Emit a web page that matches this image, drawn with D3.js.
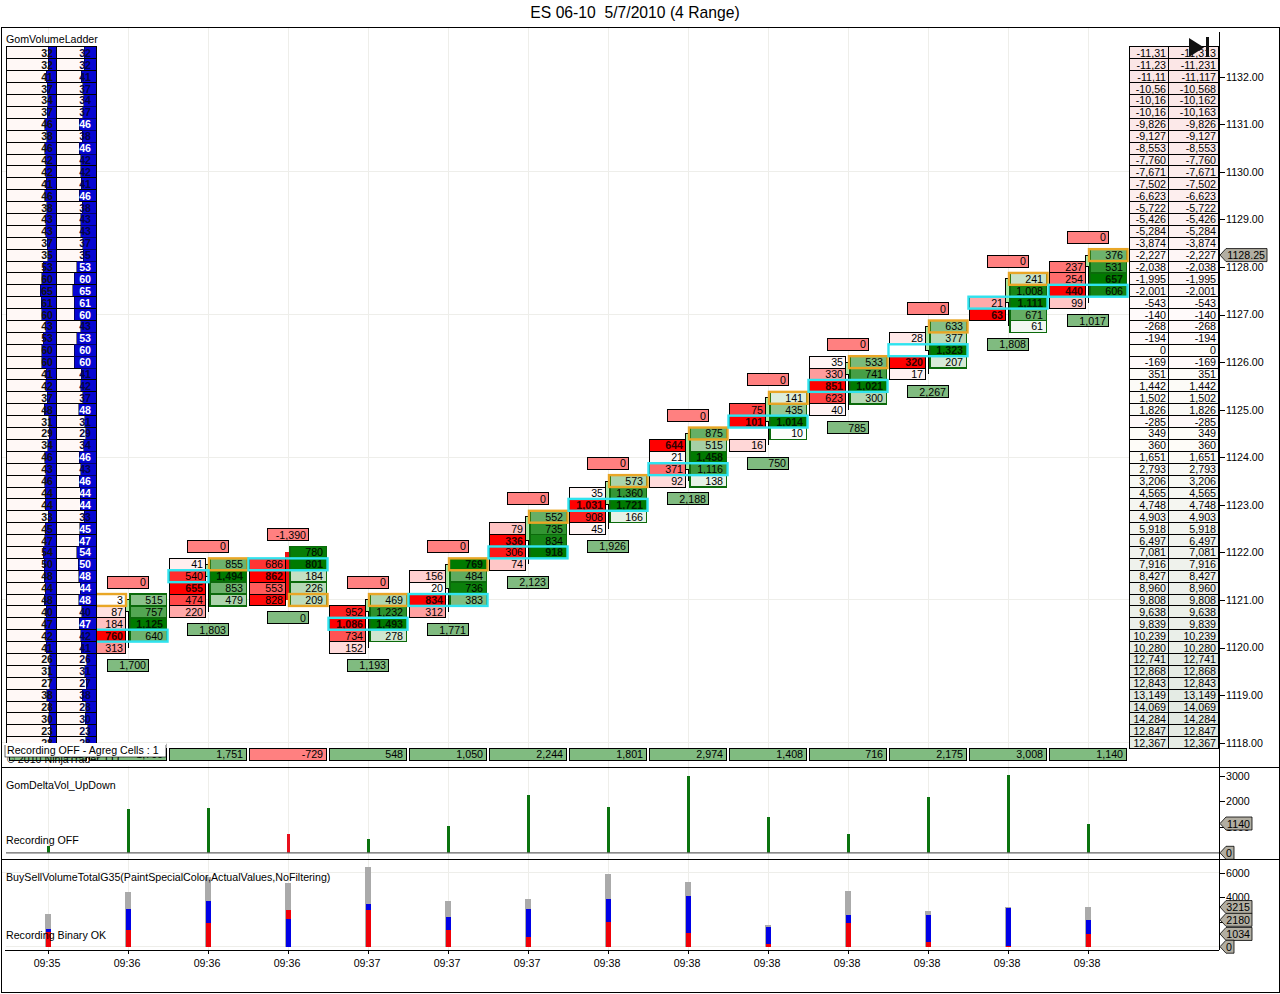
<!DOCTYPE html>
<html>
<head>
<meta charset="utf-8">
<script src="https://cdn.jsdelivr.net/npm/d3@7/dist/d3.min.js"></script>
<style>
html,body{margin:0;padding:0;background:#fff}
svg{display:block}
text{font-family:"Liberation Sans",Arial,sans-serif;font-size:10.67px;fill:#000;white-space:pre}
</style>
</head>
<body>
<svg id="chart" width="1280" height="994"></svg>
<script>
// ---------- data ----------
const titleText = "ES 06-10  5/7/2010 (4 Range)";
const timeLabels = ["09:35","09:36","09:36","09:36","09:37","09:37","09:37","09:38","09:38","09:38","09:38","09:38","09:38","09:38"];
const ladderTop = 1132.5;
const ladderVolumes = [32,32,41,37,34,37,46,38,46,42,42,41,46,38,43,43,37,35,53,60,65,61,60,43,53,60,60,41,42,37,48,31,29,34,46,43,46,44,44,33,45,47,54,50,48,44,48,40,47,42,41,26,31,27,38,28,30,23,28];
const cumulativeDelta = [-11313,-11231,-11117,-10568,-10162,-10163,-9826,-9127,-8553,-7760,-7671,-7502,-6623,-5722,-5426,-5284,-3874,-2227,-2038,-1995,-2001,-543,-140,-268,-194,0,-169,351,1442,1502,1826,-285,349,360,1651,2793,3206,4565,4748,4903,5918,6497,7081,7916,8427,8960,9808,9638,9839,10239,10280,12741,12868,12843,13149,14069,14284,12847,12367];
// index 0 of the bar arrays is the 09:35 bar; its footprint sits behind the ladder
const barIndex   = [1,2,3,4,5,6,7,8,9,10,11,12,13];
const barOpen    = [1120.75,1121.5,1122,1120.75,1121.25,1122.25,1123,1123.75,1124.75,1125.75,1126.25,1127.25,1128];
const barClose   = [1121,1121.75,1121,1121,1121.75,1122.75,1123.5,1124.5,1125.25,1126,1126.75,1127.75,1128.25];
const barHigh    = [1121,1121.75,1122,1121,1121.75,1122.75,1123.5,1124.5,1125.25,1126,1126.75,1127.75,1128.25];
const barLow     = [1120,1120.75,1121,1120,1120.75,1121.75,1122.5,1123.5,1124.25,1125,1125.75,1126.75,1127.25];
const sellTopPrice = [1121,1121.75,1121.75,1120.75,1121.5,1122.5,1123.25,1124.25,1125,1126,1126.5,1127.25,1128];
const sellVolumes = [
  [3,87,184,760,313],[41,540,655,474,220],[686,862,553,828],[952,1086,734,152],
  [156,20,834,312],[79,336,306,74],[35,1031,908,45],[644,21,371,92],
  [75,101,null,16],[35,330,851,623,40],[28,null,320,17],[21,63],[237,254,440,99]];
const buyTopPrice = [1121,1121.75,1122,1121,1121.75,1122.75,1123.5,1124.5,1125.25,1126,1126.75,1127.75,1128.25];
const buyVolumes = [
  [515,757,1125,640],[855,1494,853,479],[780,801,184,226,209],[469,1232,1493,278],
  [769,484,736,383],[552,735,834,918],[573,1360,1721,166],[875,515,1458,1116,138],
  [141,435,1014,10],[533,741,1021,300],[633,377,1323,207],[241,1008,1111,671,61],[376,531,657,606]];
const highlightPrice = [1120.25,1121.5,1121.75,1120.5,1121,1122,1123,1123.75,1124.75,1125.5,1126.25,1127.25,1127.5];
const highlightSpan  = ["both","left","both","both","both","both","both","both","both","both","both","both","both"];
const openPrice      = [1121,1121.75,1121,1121,1121.75,1122.75,1123.5,1124.5,1125.25,1126,1126.75,1127.75,1128.25];
const openSide       = ["sell","buy","buy","buy","buy","buy","buy","buy","buy","buy","buy","buy","buy"];
const topBoxValues    = [0,0,-1390,0,0,0,0,0,0,0,0,0,0];
const bottomBoxValues = [1700,1803,0,1193,1771,2123,1926,2188,750,785,2267,1808,1017];
const barDelta = [263,1700,1751,-729,548,1050,2244,1801,2974,1408,716,2175,3008,1140];
const totalVolume = [2649,4432,5676,5135,6459,3703,3865,5892,5243,1757,4514,2892,3189,3215];
const buyVolume   = [1432,3054,3703,2243,3459,2432,3054,3865,4108,1595,2568,2568,3135,2180];
const sellVolume  = [1216,1351,1892,2973,2973,1351,811,2000,1135,189,1919,405,81,1034];
const priceTicks = d3.range(1118,1133);
const priceGrid = [1118,1121,1124,1127,1130];
const deltaTicks = [1000,2000,3000];
const volumeTicks = [2000,4000,6000];
const lastPrice = 1128.25;

// ---------- scales ----------
const svg = d3.select("#chart");
const x = d3.scaleLinear().domain([0,13]).range([48,1088]);
const y = d3.scaleLinear().domain([1118,1132]).range([742.7,76.7]);
const yDelta = d3.scaleLinear().domain([0,3000]).range([852.8,775.7]);
const yVol = d3.scaleLinear().domain([0,6000]).range([946.7,872.7]);
const rowH = Math.abs(y(1118.25)-y(1118));
const fmt = v => d3.format(",")(v).replace("\u2212","-");
const redShade = d3.scaleLinear().domain([0,1]).range(["#ffffff","#ff0000"]);
const greenShade = d3.scaleLinear().domain([0,1]).range(["#ffffff","#007a00"]);
const negShade = d3.scaleLinear().domain([0,11313]).range(["#fffafa","#fbe6e6"]);
const posShade = d3.scaleLinear().domain([0,14284]).range(["#fffdf9","#e2e9e2"]);
const rightX = 1219;
const crisp = g => g.attr("shape-rendering","crispEdges");

// ---------- grid ----------
const grid = svg.append("g").call(crisp).attr("stroke","#eeeeea");
grid.selectAll(".v").data(timeLabels).join("line")
  .attr("x1",(d,i)=>x(i)).attr("x2",(d,i)=>x(i)).attr("y1",28).attr("y2",950);
grid.selectAll(".h").data(priceGrid).join("line")
  .attr("x1",2).attr("x2",rightX).attr("y1",d=>y(d)).attr("y2",d=>y(d));
grid.append("line").attr("x1",2).attr("x2",rightX).attr("y1",yVol(6000)).attr("y2",yVol(6000));
grid.append("line").attr("x1",6).attr("x2",rightX).attr("y1",yVol(0)).attr("y2",yVol(0));

// ---------- candle bodies and wicks ----------
const candles = svg.append("g").selectAll("g").data(barIndex).join("g").call(crisp);
candles.append("line")
  .attr("x1",d=>x(d)).attr("x2",d=>x(d))
  .attr("y1",(d,i)=>y(barHigh[i])).attr("y2",(d,i)=>y(barLow[i]))
  .attr("stroke","#000");
candles.append("rect")
  .attr("x",d=>x(d)-2.5).attr("width",5)
  .attr("y",(d,i)=>y(Math.max(barOpen[i],barClose[i])))
  .attr("height",(d,i)=>Math.abs(y(barOpen[i])-y(barClose[i])))
  .attr("fill",(d,i)=>barClose[i]>=barOpen[i]?"#a4e8a0":"#ee1111")
  .attr("stroke",(d,i)=>barClose[i]>=barOpen[i]?"#000":"#ee1111");

// ---------- footprint cells ----------
const cellsLayer = svg.append("g");
barIndex.forEach((bar,i)=>{
  const xc = x(bar);
  const maxSell = d3.max(sellVolumes[i]);
  const maxBuy = d3.max(buyVolumes[i]);
  const sellG = cellsLayer.append("g");
  sellVolumes[i].forEach((v,k)=>{
    if(v===null) return;
    const cy = y(sellTopPrice[i]-k*0.25);
    sellG.append("rect").attr("x",xc-38.5).attr("y",cy-rowH/2).attr("width",35.5).attr("height",rowH)
      .attr("fill",redShade(v/maxSell)).attr("stroke","#000").attr("shape-rendering","crispEdges");
    sellG.append("text").attr("x",xc-5).attr("y",cy+4).attr("text-anchor","end")
      .attr("font-weight",v===maxSell?"bold":"normal").style("fill",v===maxSell?"#300":"#000").text(fmt(v));
  });
  const buyG = cellsLayer.append("g");
  buyVolumes[i].forEach((v,k)=>{
    const cy = y(buyTopPrice[i]-k*0.25);
    buyG.append("rect").attr("x",xc+2).attr("y",cy-rowH/2).attr("width",36.5).attr("height",rowH)
      .attr("fill",greenShade(v/maxBuy)).attr("stroke","#0b6a0b").attr("stroke-width",1.5).attr("shape-rendering","crispEdges");
    buyG.append("text").attr("x",xc+35).attr("y",cy+4).attr("text-anchor","end")
      .attr("font-weight",v===maxBuy?"bold":"normal").style("fill",v===maxBuy?"#001a00":"#000").text(fmt(v));
  });
  // open-price outline
  const oy = y(openPrice[i]);
  cellsLayer.append("rect")
    .attr("x",openSide[i]==="sell"?xc-39.5:xc+1).attr("width",openSide[i]==="sell"?37.5:38.5)
    .attr("y",oy-rowH/2).attr("height",rowH)
    .attr("fill","none").attr("stroke","#e9a626").attr("stroke-width",2.4);
  // peak-volume outline
  const hy = y(highlightPrice[i]);
  const span = highlightSpan[i];
  cellsLayer.append("rect")
    .attr("x",xc-39.5).attr("width",span==="both"?79:40)
    .attr("y",hy-rowH/2).attr("height",rowH)
    .attr("fill","none").attr("stroke","#2fe3ee").attr("stroke-width",2.4);
  // boxes above and below the bar
  const tv = topBoxValues[i];
  const topY = y(barHigh[i])-1.5*rowH;
  cellsLayer.append("rect").attr("x",xc-20.5).attr("y",topY-6).attr("width",41).attr("height",12)
    .attr("fill","#ff8080").attr("stroke","#000").attr("shape-rendering","crispEdges");
  cellsLayer.append("text").attr("x",xc+18).attr("y",topY+4).attr("text-anchor","end").text(fmt(tv));
  const bv = bottomBoxValues[i];
  const botY = y(barLow[i])+1.5*rowH;
  cellsLayer.append("rect").attr("x",xc-20.5).attr("y",botY-6).attr("width",41).attr("height",12)
    .attr("fill","#80bb80").attr("stroke","#000").attr("shape-rendering","crispEdges");
  cellsLayer.append("text").attr("x",xc+18).attr("y",botY+4).attr("text-anchor","end").text(fmt(bv));
});

// ---------- left ladder ----------
const ladderL = svg.append("g");
const leftCols = [{x:6,w:50,unit:0.24,textX:53},{x:56,w:40,unit:0.36,textX:91}];
leftCols.forEach((c,ci)=>{
  ladderVolumes.forEach((v,k)=>{
    const cy = y(ladderTop-k*0.25);
    ladderL.append("rect").attr("x",c.x).attr("y",cy-rowH/2).attr("width",c.w).attr("height",rowH)
      .attr("fill","#fff8f6").attr("stroke","#000").attr("shape-rendering","crispEdges");
    ladderL.append("rect").attr("x",c.x+c.w-v*c.unit).attr("y",cy-rowH/2).attr("width",v*c.unit).attr("height",rowH)
      .attr("fill","#0606d2").attr("stroke","#000").attr("stroke-width",0.5).attr("shape-rendering","crispEdges");
    ladderL.append("text").attr("x",c.textX).attr("y",cy+4).attr("text-anchor","end").attr("font-weight","bold")
      .style("fill",ci===1?(v>=44?"#fff":"#050544"):"#111").text(v);
  });
});

// ---------- right ladder ----------
const ladderR = svg.append("g");
cumulativeDelta.forEach((v,k)=>{
  const cy = y(ladderTop-k*0.25);
  const fill = v<0?negShade(-v):posShade(v);
  ladderR.append("rect").attr("x",1129).attr("y",cy-rowH/2).attr("width",39.5).attr("height",rowH)
    .attr("fill",fill).attr("stroke","#000").attr("shape-rendering","crispEdges");
  ladderR.append("rect").attr("x",1168.5).attr("y",cy-rowH/2).attr("width",49.5).attr("height",rowH)
    .attr("fill",fill).attr("stroke","#000").attr("shape-rendering","crispEdges");
  ladderR.append("text").attr("x",1166).attr("y",cy+4).attr("text-anchor","end").text(fmt(v).slice(0,6));
  ladderR.append("text").attr("x",1216).attr("y",cy+4).attr("text-anchor","end").text(fmt(v));
});
// end-of-chart marker
svg.append("path").attr("d",d3.line()([[1189,38],[1204,47.5],[1189,57]])+"Z").attr("fill","#111");
svg.append("rect").attr("x",1206).attr("y",37).attr("width",3).attr("height",20).attr("fill","#111");

// ---------- bottom totals row ----------
const totals = svg.append("g");
barDelta.forEach((v,i)=>{
  const xc = x(i);
  totals.append("rect").attr("x",xc-38.5).attr("y",748).attr("width",77).attr("height",12.5)
    .attr("fill",v<0?"#ff8080":"#80bb80").attr("stroke","#000").attr("shape-rendering","crispEdges");
  totals.append("text").attr("x",xc+35).attr("y",758).attr("text-anchor","end").text(fmt(v));
});
svg.append("text").attr("x",7).attr("y",763).text("© 2010 NinjaTrader, LLC");
svg.append("rect").attr("x",90).attr("y",761).attr("width",80).attr("height",5).attr("fill","#fff");
svg.append("rect").attr("x",5).attr("y",744).attr("width",161).attr("height",13)
  .attr("fill","#fff").attr("stroke","#000").attr("stroke-width",0.6);
svg.append("rect").attr("x",3).attr("y",743).attr("width",163).attr("height",2).attr("fill","#fff");
svg.append("text").attr("x",7).attr("y",754).text("Recording OFF - Agreg Cells : 1");

// ---------- delta panel ----------
svg.append("g").call(crisp).selectAll("rect").data(barDelta).join("rect")
  .attr("x",(d,i)=>x(i)-1.5).attr("width",3)
  .attr("y",d=>yDelta(Math.abs(d))).attr("height",d=>yDelta(0)-yDelta(Math.abs(d)))
  .attr("fill",d=>d<0?"#e8101c":"#0b730f");
svg.append("line").attr("x1",6).attr("x2",rightX).attr("y1",yDelta(0)).attr("y2",yDelta(0))
  .attr("stroke","#666").attr("stroke-width",1.2);

// ---------- volume panel ----------
const volG = svg.append("g").call(crisp);
timeLabels.forEach((t,i)=>{
  const xc = x(i);
  volG.append("rect").attr("x",xc-3).attr("width",6).attr("y",yVol(totalVolume[i])).attr("height",yVol(0)-yVol(totalVolume[i])).attr("fill","#aaaaaa");
  const pair = [{v:buyVolume[i],c:"#0000e6"},{v:sellVolume[i],c:"#f00008"}].sort((a,b)=>b.v-a.v);
  pair.forEach(p=>{
    volG.append("rect").attr("x",xc-2.5).attr("width",5.5).attr("y",yVol(p.v)).attr("height",yVol(0)-yVol(p.v)).attr("fill",p.c);
  });
});

// ---------- frame and panel rules ----------
const frame = svg.append("g").call(crisp).attr("stroke","#000");
frame.append("rect").attr("x",1).attr("y",27).attr("width",1278).attr("height",965.5).attr("fill","none");
frame.append("line").attr("x1",1).attr("x2",1280).attr("y1",767).attr("y2",767);
frame.append("line").attr("x1",1).attr("x2",1280).attr("y1",859).attr("y2",859);
frame.append("line").attr("x1",5).attr("x2",rightX).attr("y1",950).attr("y2",950);
frame.append("line").attr("x1",rightX).attr("x2",rightX).attr("y1",32).attr("y2",950);

// ---------- axes ----------
function styleAxis(g){
  g.select(".domain").remove();
  g.selectAll("line").attr("stroke","#000").attr("shape-rendering","crispEdges");
  g.selectAll("text").attr("dx",-1).style("fill","#000");
  g.attr("font-family",null).attr("font-size",null);
}
svg.append("g").attr("transform",`translate(${rightX},0)`)
  .call(d3.axisRight(y).tickValues(priceTicks).tickFormat(d3.format(".2f")).tickSize(6).tickPadding(2)).call(styleAxis);
svg.append("g").attr("transform",`translate(${rightX},0)`)
  .call(d3.axisRight(yDelta).tickValues(deltaTicks).tickFormat(d3.format("d")).tickSize(6).tickPadding(2)).call(styleAxis);
svg.append("g").attr("transform",`translate(${rightX},0)`)
  .call(d3.axisRight(yVol).tickValues(volumeTicks).tickFormat(d3.format("d")).tickSize(6).tickPadding(2)).call(styleAxis);
svg.append("g").attr("transform","translate(0,950)")
  .call(d3.axisBottom(x).tickValues(d3.range(timeLabels.length)).tickFormat(i=>timeLabels[i]).tickSize(4).tickPadding(5))
  .call(g=>{g.select(".domain").remove();
    g.selectAll("line").attr("stroke","#000").attr("shape-rendering","crispEdges");
    g.selectAll("text").attr("dx",-1.5).style("fill","#000");
    g.attr("font-family",null).attr("font-size",null);});

// ---------- last-value tags ----------
function tag(yPos,label,right){
  const top=yPos-6.5,bot=yPos+6.5,left=rightX+1;
  svg.append("path").attr("d",d3.line()([[left,yPos],[left+6,top],[right,top],[right,bot],[left+6,bot]])+"Z")
    .attr("fill","#b2aea2").attr("stroke","#000").attr("stroke-width",0.8);
  svg.append("text").attr("x",right-2).attr("y",yPos+4).attr("text-anchor","end").text(label);
}
tag(y(lastPrice),d3.format(".2f")(lastPrice),1267);
tag(yDelta(barDelta[13]),String(barDelta[13]),1252);
tag(yDelta(0),"0",1234);
tag(yVol(totalVolume[13]),String(totalVolume[13]),1252);
tag(yVol(buyVolume[13]),String(buyVolume[13]),1252);
tag(yVol(sellVolume[13]),String(sellVolume[13]),1252);
tag(yVol(0),"0",1234);

// ---------- titles ----------
svg.append("text").attr("x",635).attr("y",18).attr("text-anchor","middle").style("font-size","15.7px").text(titleText);
svg.append("text").attr("x",6).attr("y",43).text("GomVolumeLadder");
svg.append("text").attr("x",6).attr("y",789).text("GomDeltaVol_UpDown");
svg.append("text").attr("x",6).attr("y",844).text("Recording OFF");
svg.append("text").attr("x",6).attr("y",881).text("BuySellVolumeTotalG35(PaintSpecialColor,ActualValues,NoFiltering)");
svg.append("text").attr("x",6).attr("y",939).text("Recording Binary OK");
</script>
</body>
</html>
